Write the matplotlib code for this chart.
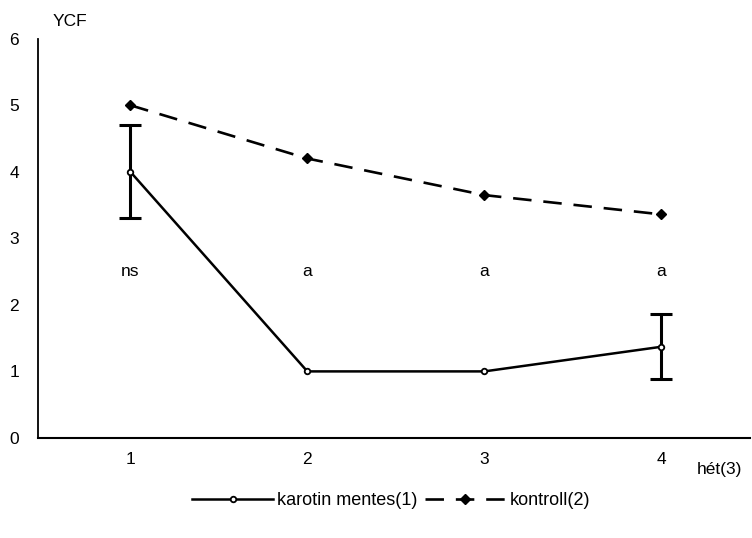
import matplotlib.pyplot as plt

plt.rcParams['font.family'] = ['Liberation Sans', 'DejaVu Sans']

weeks = [1, 2, 3, 4]
karotin = [4.0, 1.0, 1.0, 1.37]
karotin_err = [0.7, 0.0, 0.0, 0.49]
kontroll = [5.0, 4.2, 3.65, 3.36]
signif = ['ns', 'a', 'a', 'a']

fig = plt.figure(figsize=(7.52, 5.38), dpi=100)
ax = fig.add_axes([0.051, 0.186, 0.946, 0.742])

# error bars only where the source shows them
ex = [w for w, e in zip(weeks, karotin_err) if e > 0]
ey = [v for v, e in zip(karotin, karotin_err) if e > 0]
ee = [e for e in karotin_err if e > 0]
ax.errorbar(ex, ey, yerr=ee, fmt='none', ecolor='black', capsize=8,
            capthick=2.2, elinewidth=2.2)

ax.plot(weeks, karotin, color='black', lw=1.8, marker='o', ms=4, mfc='white',
        mew=1.3, label='karotin mentes(1)')
ax.plot(weeks, kontroll, color='black', lw=1.9, ls=(0, (7, 4.5)), marker='D', ms=5,
        label='kontroll(2)')

for x, s in zip(weeks, signif):
    ax.text(x, 2.5, s, ha='center', va='center', fontsize=12.5)

ax.set_xlim(0.48, 4.5)
ax.set_ylim(0, 6)
ax.set_xticks(weeks)
ax.set_yticks(range(7))
ax.tick_params(length=0, labelsize=12.5, pad=10)
ax.tick_params(axis='y', pad=14)
for s in ['top', 'right']:
    ax.spines[s].set_visible(False)
ax.spines['left'].set_linewidth(1.3)
ax.spines['bottom'].set_linewidth(1.5)

ax.text(0.02, 1.025, 'YCF', transform=ax.transAxes, fontsize=12.5, ha='left', va='bottom')
ax.text(0.925, -0.08, 'hét(3)', transform=ax.transAxes, fontsize=12.5, ha='left', va='center')

fig.legend(loc='center', bbox_to_anchor=(0.52, 0.07), ncol=2, frameon=False,
           fontsize=13, handlelength=4.5, columnspacing=0.4, handletextpad=0.2)

fig.savefig('out.png', dpi=100)
